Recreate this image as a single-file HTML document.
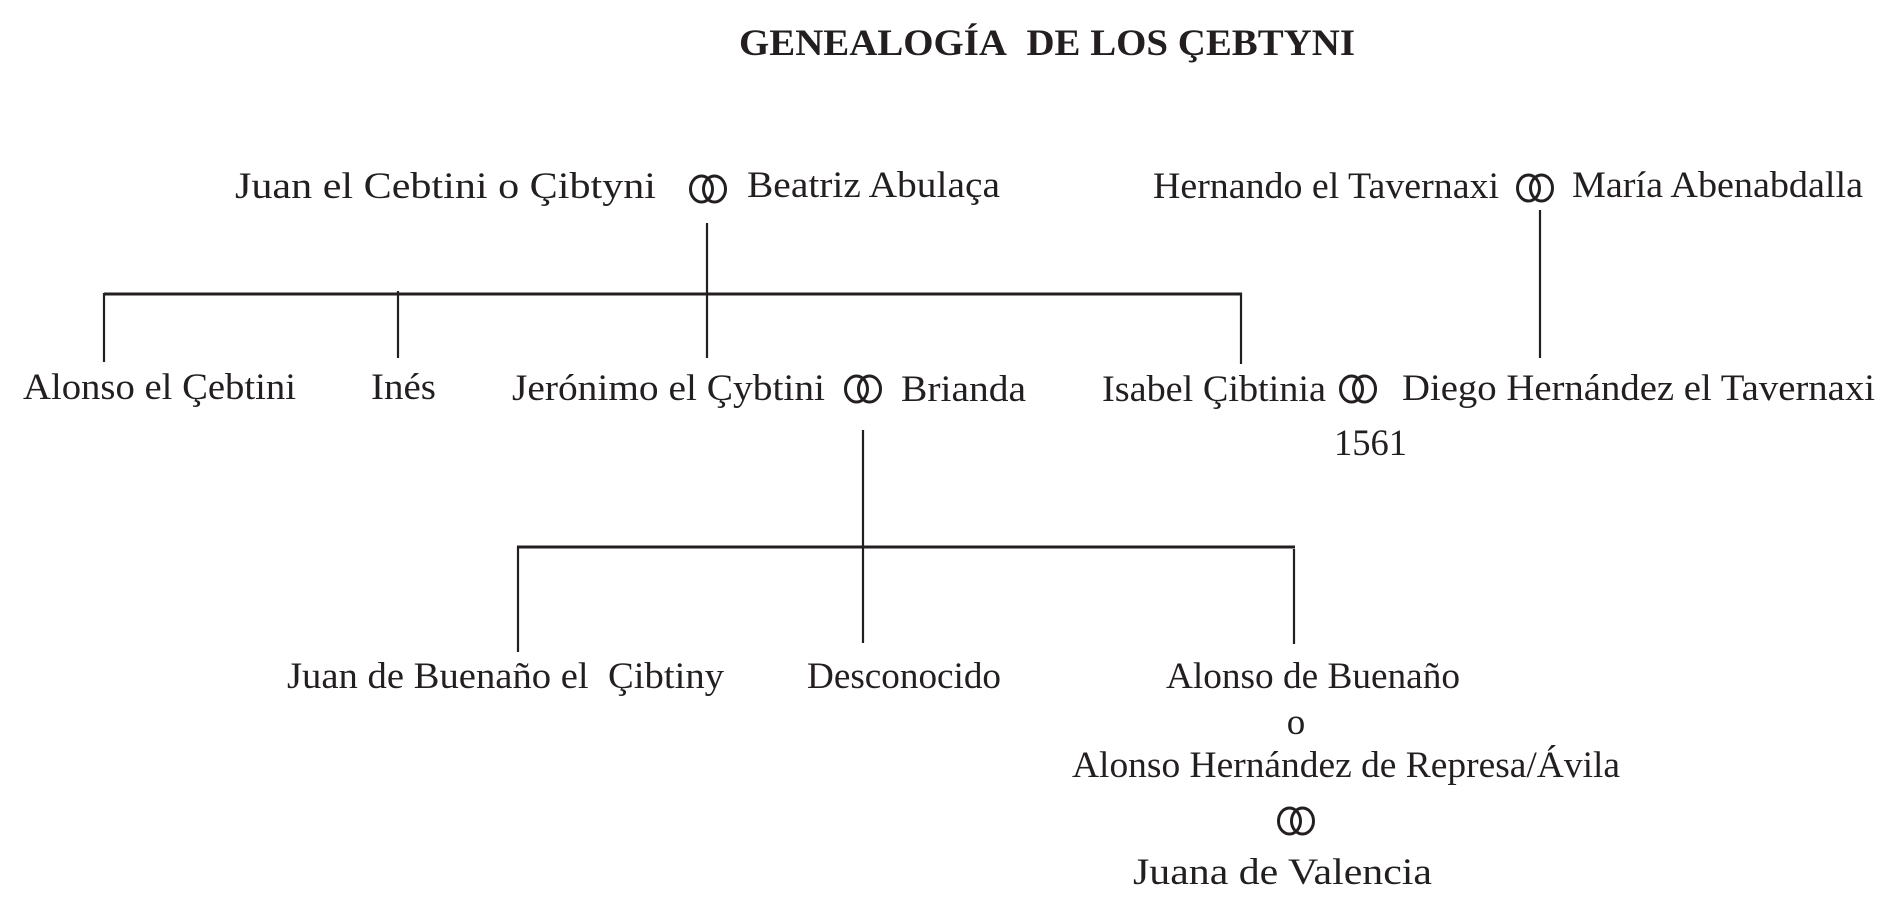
<!DOCTYPE html>
<html><head><meta charset="utf-8"><style>html,body{margin:0;padding:0;background:#fff}svg{display:block}</style></head>
<body>
<svg width="1893" height="916" viewBox="0 0 1893 916" xmlns="http://www.w3.org/2000/svg" font-family="'Liberation Serif', serif" fill="#231f20">
<defs>
<g id="r" fill="none" stroke="#231f20" stroke-width="3"><ellipse cx="-6.5" cy="0" rx="11" ry="13"/><ellipse cx="6.5" cy="0" rx="11" ry="13"/></g>
</defs>
<text x="739" y="55" font-size="37" font-weight="bold" textLength="616" lengthAdjust="spacingAndGlyphs">GENEALOGÍA&#160; DE LOS ÇEBTYNI</text>
<g font-size="37">
<text x="235" y="198" textLength="421" lengthAdjust="spacingAndGlyphs">Juan el Cebtini o Çibtyni</text>
<text x="747" y="197" textLength="253" lengthAdjust="spacingAndGlyphs">Beatriz Abulaça</text>
<text x="1153" y="198" textLength="346" lengthAdjust="spacingAndGlyphs">Hernando el Tavernaxi</text>
<text x="1572" y="197" textLength="291" lengthAdjust="spacingAndGlyphs">María Abenabdalla</text>
<text x="23" y="399" textLength="273" lengthAdjust="spacingAndGlyphs">Alonso el Çebtini</text>
<text x="371" y="399" textLength="65" lengthAdjust="spacingAndGlyphs">Inés</text>
<text x="512" y="400" textLength="313" lengthAdjust="spacingAndGlyphs">Jerónimo el Çybtini</text>
<text x="901" y="401" textLength="125" lengthAdjust="spacingAndGlyphs">Brianda</text>
<text x="1102" y="401" textLength="224" lengthAdjust="spacingAndGlyphs">Isabel Çibtinia</text>
<text x="1402" y="400" textLength="473" lengthAdjust="spacingAndGlyphs">Diego Hernández el Tavernaxi</text>
<text x="1334" y="455" textLength="73" lengthAdjust="spacingAndGlyphs">1561</text>
<text x="287" y="688" textLength="437" lengthAdjust="spacingAndGlyphs">Juan de Buenaño el&#160; Çibtiny</text>
<text x="807" y="688" textLength="194" lengthAdjust="spacingAndGlyphs">Desconocido</text>
<text x="1166" y="688" textLength="294" lengthAdjust="spacingAndGlyphs">Alonso de Buenaño</text>
<text x="1296" y="734" text-anchor="middle">o</text>
<text x="1072" y="777" textLength="548" lengthAdjust="spacingAndGlyphs">Alonso Hernández de Represa/Ávila</text>
<text x="1133" y="884" textLength="299" lengthAdjust="spacingAndGlyphs">Juana de Valencia</text>
</g>
<use href="#r" x="708" y="189"/>
<use href="#r" x="1535" y="188"/>
<use href="#r" x="863" y="389"/>
<use href="#r" x="1358" y="389"/>
<use href="#r" x="1296" y="821"/>
<g stroke="#231f20" stroke-width="2.2" fill="none">
<line x1="707" y1="223" x2="707" y2="358"/>
<line x1="104" y1="294" x2="1242" y2="294" stroke-width="3"/>
<line x1="104" y1="293" x2="104" y2="362"/>
<line x1="398" y1="291" x2="398" y2="358"/>
<line x1="1241" y1="293" x2="1241" y2="364"/>
<line x1="1540" y1="210" x2="1540" y2="358"/>
<line x1="863" y1="430" x2="863" y2="643"/>
<line x1="517" y1="547" x2="1295" y2="547" stroke-width="3"/>
<line x1="518" y1="546" x2="518" y2="652"/>
<line x1="1294" y1="549" x2="1294" y2="644"/>
</g>
</svg>
</body></html>
